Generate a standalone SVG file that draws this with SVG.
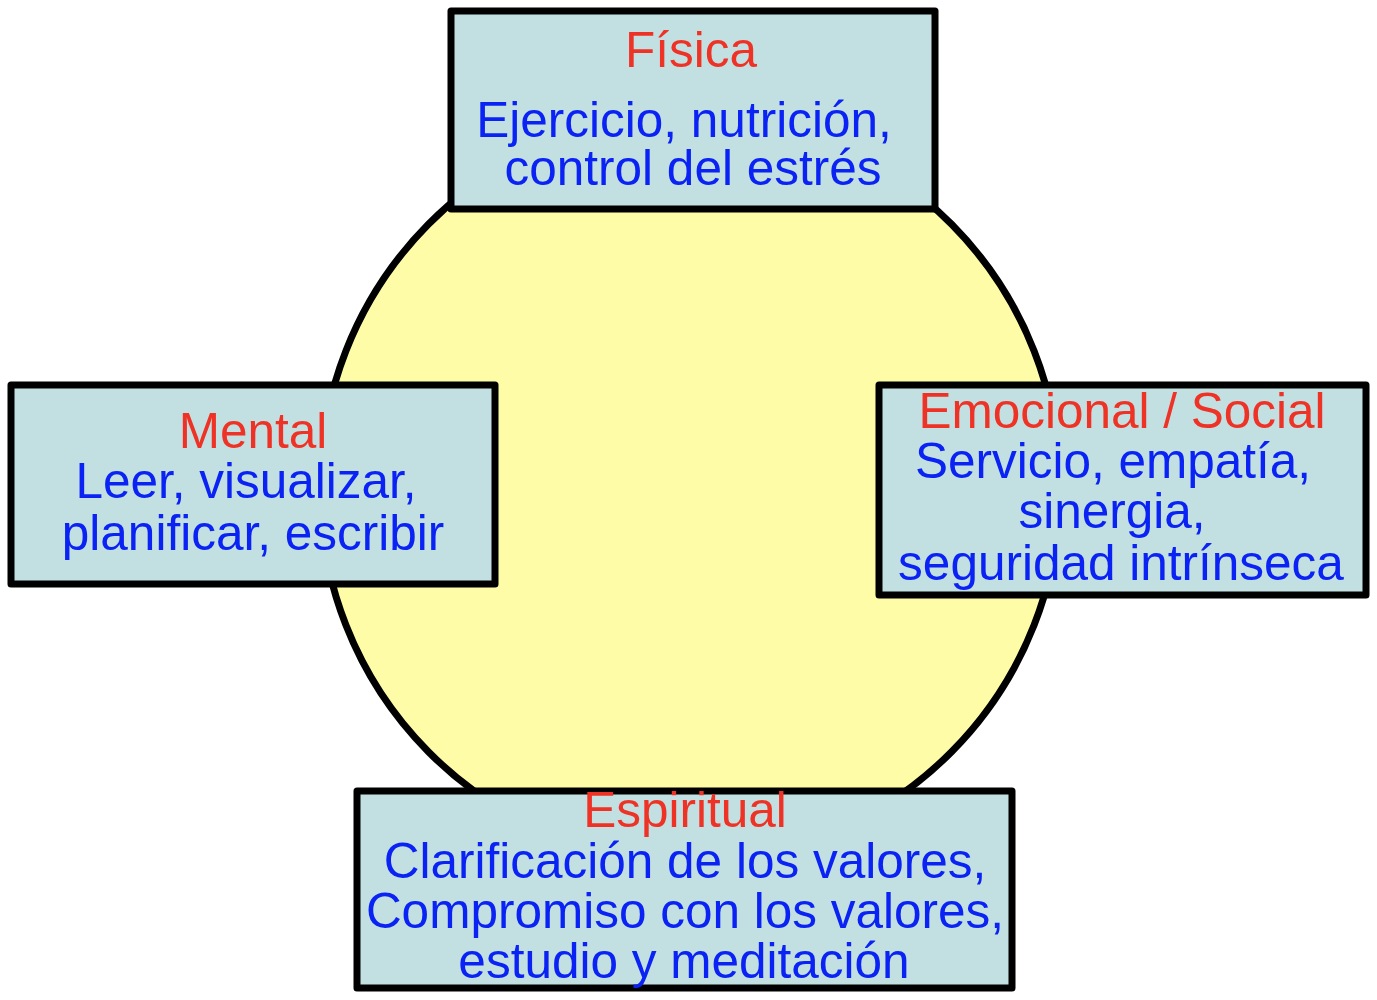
<svg xmlns="http://www.w3.org/2000/svg" width="1377" height="1000" viewBox="0 0 1377 1000">
<style>
.box{fill:#C2E0E1;stroke:#000;stroke-width:7;stroke-linejoin:round}
.t{font-family:"Liberation Sans",Arial,sans-serif;font-size:49.5px;text-anchor:middle}
.h{fill:#EE3326}
.b{fill:#0A22F4}
</style>
<rect width="1377" height="1000" fill="#fff"/>
<g id="circle">
<ellipse cx="690" cy="488" rx="370" ry="373" fill="#FFFCA7" stroke="#000" stroke-width="7"/>
</g>
<g id="connectors"></g>
<g id="fisica">
<rect class="box" x="451" y="11" width="484" height="198"/>
<text class="t h" x="691" y="67">Física</text>
<text class="t b" x="684" y="137">Ejercicio, nutrición,</text>
<text class="t b" x="693" y="185">control del estrés</text>
</g>
<g id="mental">
<rect class="box" x="11" y="385" width="484" height="199"/>
<text class="t h" x="253" y="448">Mental</text>
<text class="t b" x="246" y="498">Leer, visualizar,</text>
<text class="t b" x="253" y="550">planificar, escribir</text>
</g>
<g id="emocional">
<rect class="box" x="879" y="385" width="487" height="210"/>
<text class="t h" x="1122" y="428">Emocional / Social</text>
<text class="t b" x="1113" y="478">Servicio, empatía,</text>
<text class="t b" x="1112" y="528">sinergia,</text>
<text class="t b" x="1121" y="580">seguridad intrínseca</text>
</g>
<g id="espiritual">
<rect class="box" x="357" y="791" width="655" height="197"/>
<text class="t h" x="685" y="827">Espiritual</text>
<text class="t b" x="685" y="878">Clarificación de los valores,</text>
<text class="t b" x="685" y="928">Compromiso con los valores,</text>
<text class="t b" x="684" y="978">estudio y meditación</text>
</g>
</svg>
